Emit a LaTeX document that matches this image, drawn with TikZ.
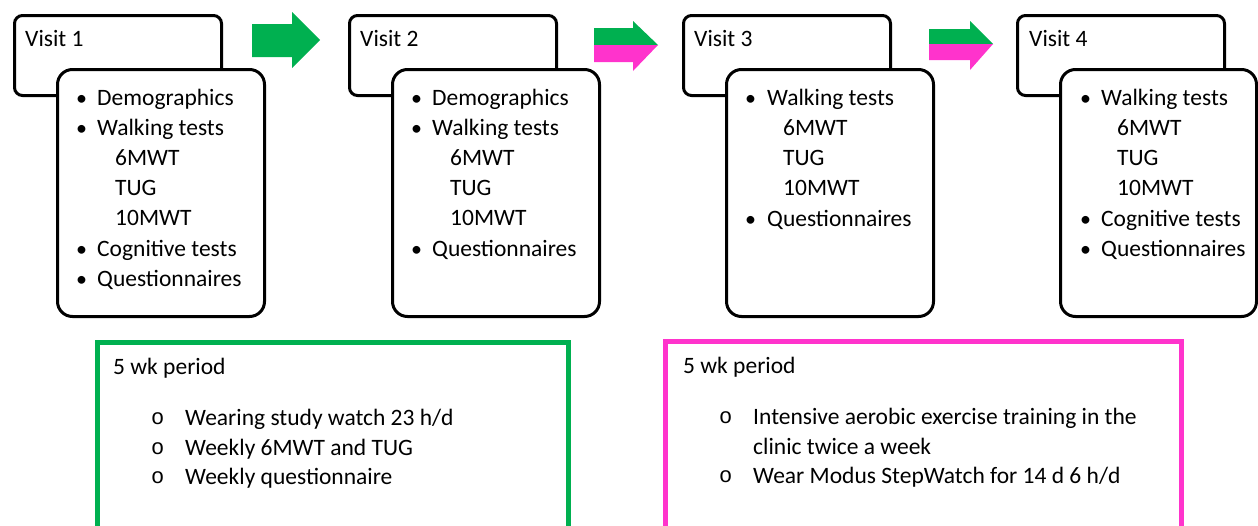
\documentclass[tikz,border=0pt]{standalone}
\usepackage{fontspec}
\setmainfont{Carlito}
\newfontfamily\bulfont{Liberation Mono}
\definecolor{okgreen}{HTML}{00B050}
\definecolor{okpink}{HTML}{FF33CC}
\begin{document}
\begin{tikzpicture}[x=1pt,y=-1pt,
  backbox/.style={draw=black,line width=3pt,rounded corners=8pt,fill=white,anchor=north west,inner sep=0pt},
  frontbox/.style={draw=black,line width=3pt,rounded corners=15pt,fill=white,anchor=north west,inner sep=0pt},
  txt/.style={anchor=base west,inner sep=0pt,font=\fontsize{23.5}{28}\selectfont},
  bul/.style={anchor=base west,inner sep=0pt,font=\fontsize{22}{26}\selectfont},
  obul/.style={anchor=base west,inner sep=0pt,font=\bulfont\fontsize{22}{24}\selectfont},
  period/.style={draw,line width=5pt,anchor=north west,inner sep=0pt,fill=none}]
\useasboundingbox (0,0) rectangle (1258,525);
% ---------- Visit boxes ----------
\node[backbox,minimum width=207pt,minimum height=80pt] (b1) at (13,14) {};
\node[frontbox,minimum width=207pt,minimum height=247pt] (f1) at (56,68) {};
\node[backbox,minimum width=207pt,minimum height=80pt] (b2) at (348,14) {};
\node[frontbox,minimum width=207pt,minimum height=247pt] (f2) at (391,68) {};
\node[backbox,minimum width=207pt,minimum height=80pt] (b3) at (682,14) {};
\node[frontbox,minimum width=207pt,minimum height=247pt] (f3) at (725,68) {};
\node[backbox,minimum width=207pt,minimum height=80pt] (b4) at (1016,14) {};
\node[frontbox,minimum width=196pt,minimum height=247pt] (f4) at (1059,68) {};
% Visit 1 text
\node[txt] (t1) at (25,46) {Visit 1};
\node[bul] (t1a) at (76,105) {•}; \node[txt] (t1b) at (97,105) {Demographics};
\node[bul] (t1c) at (76,135) {•}; \node[txt] (t1d) at (97,135) {Walking tests};
\node[txt] (t1e) at (115,165) {6MWT};
\node[txt] (t1f) at (115,195) {TUG};
\node[txt] (t1g) at (115,225) {10MWT};
\node[bul] (t1h) at (76,256) {•}; \node[txt] (t1i) at (97,256) {Cognitive tests};
\node[bul] (t1j) at (76,286) {•}; \node[txt] (t1k) at (97,286) {Questionnaires};
% Visit 2 text
\node[txt] (t2) at (360,46) {Visit 2};
\node[bul] (t2a) at (411,105) {•}; \node[txt] (t2b) at (432,105) {Demographics};
\node[bul] (t2c) at (411,135) {•}; \node[txt] (t2d) at (432,135) {Walking tests};
\node[txt] (t2e) at (450,165) {6MWT};
\node[txt] (t2f) at (450,195) {TUG};
\node[txt] (t2g) at (450,225) {10MWT};
\node[bul] (t2h) at (411,256) {•}; \node[txt] (t2i) at (432,256) {Questionnaires};
% Visit 3 text
\node[txt] (t3) at (694,46) {Visit 3};
\node[bul] (t3a) at (745,105) {•}; \node[txt] (t3b) at (767,105) {Walking tests};
\node[txt] (t3c) at (783,135) {6MWT};
\node[txt] (t3d) at (783,165) {TUG};
\node[txt] (t3e) at (783,195) {10MWT};
\node[bul] (t3f) at (745,226) {•}; \node[txt] (t3g) at (767,226) {Questionnaires};
% Visit 4 text
\node[txt] (t4) at (1029,46) {Visit 4};
\node[bul] (t4a) at (1080,105) {•}; \node[txt] (t4b) at (1101,105) {Walking tests};
\node[txt] (t4c) at (1117,135) {6MWT};
\node[txt] (t4d) at (1117,165) {TUG};
\node[txt] (t4e) at (1117,195) {10MWT};
\node[bul] (t4f) at (1080,226) {•}; \node[txt] (t4g) at (1101,226) {Cognitive tests};
\node[bul] (t4h) at (1080,256) {•}; \node[txt] (t4i) at (1101,256) {Questionnaires};
% ---------- Block arrows ----------
\fill[okgreen] (252,24) -- (292,24) -- (292,12) -- (320,40) -- (292,68) -- (292,57) -- (252,57) -- cycle;
\fill[okgreen] (594,28) -- (633,28) -- (633,21) -- (658,45) -- (594,45) -- cycle;
\fill[okpink] (594,45) -- (658,45) -- (633,71) -- (633,62) -- (594,62) -- cycle;
\fill[okgreen] (929,29) -- (970,29) -- (970,21) -- (993,44) -- (929,44) -- cycle;
\fill[okpink] (929,44) -- (993,44) -- (970,70) -- (970,60) -- (929,60) -- cycle;
% ---------- Period boxes ----------
\node[period,draw=okgreen,minimum width=471pt,minimum height=220pt] (g) at (95,340) {};
\node[txt] (g0) at (113,374) {5 wk period};
\node[obul] (g1o) at (151,424) {o}; \node[txt] (g1) at (185,425) {Wearing study watch 23 h/d};
\node[obul] (g2o) at (151,454) {o}; \node[txt] (g2) at (185,455) {Weekly 6MWT and TUG};
\node[obul] (g3o) at (151,483) {o}; \node[txt] (g3) at (185,484) {Weekly questionnaire};
\node[period,draw=okpink,minimum width=516pt,minimum height=220pt] (p) at (663,339) {};
\node[txt] (p0) at (683,373) {5 wk period};
\node[obul] (p1o) at (719,423) {o}; \node[txt] (p1) at (753,424) {Intensive aerobic exercise training in the};
\node[txt] (p2) at (753,454) {clinic twice a week};
\node[obul] (p3o) at (719,482) {o}; \node[txt] (p3) at (753,483) {Wear Modus StepWatch for 14 d 6 h/d};
\end{tikzpicture}
\end{document}
